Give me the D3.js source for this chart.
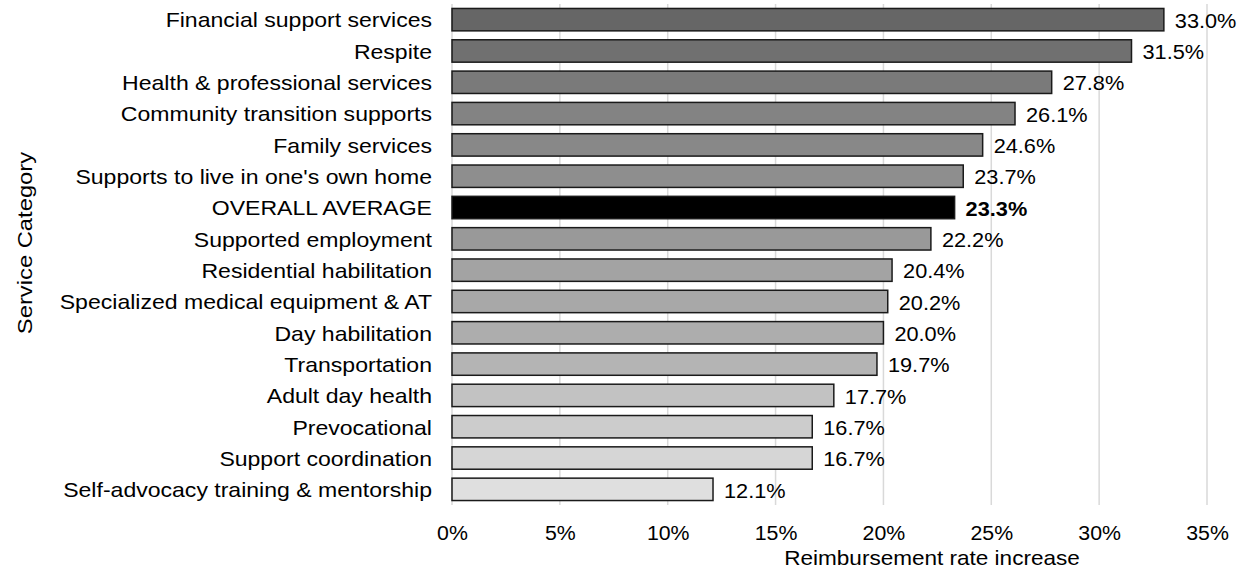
<!DOCTYPE html>
<html><head><meta charset="utf-8">
<script src="https://cdn.jsdelivr.net/npm/d3@7"></script>
<style>body{margin:0;background:#fff}svg{display:block;font-family:"Liberation Sans",Arial,sans-serif}</style>
</head><body>
<script>
const categories = ["Financial support services","Respite","Health & professional services","Community transition supports","Family services","Supports to live in one's own home","OVERALL AVERAGE","Supported employment","Residential habilitation","Specialized medical equipment & AT","Day habilitation","Transportation","Adult day health","Prevocational","Support coordination","Self-advocacy training & mentorship"];
const values = [33.0,31.5,27.8,26.1,24.6,23.7,23.3,22.2,20.4,20.2,20.0,19.7,17.7,16.7,16.7,12.1];
const fills = ["#666666","#707070","#7a7a7a","#838383","#888888","#8e8e8e","#000000","#999999","#a3a3a3","#a8a8a8","#adadad","#b4b4b4","#c2c2c2","#cccccc","#d6d6d6","#dfdfdf"];
const xTicks = [0,5,10,15,20,25,30,35];
const highlight = "OVERALL AVERAGE";

const W=1250,H=576,FS=20.5;
const svg=d3.select("body").append("svg").attr("width",W).attr("height",H);
const x=d3.scaleLinear().domain([0,35]).range([452,1207]);
const y=d3.scaleBand().domain(categories).range([4,505]).paddingInner(0.285).paddingOuter(0.1425);

// gridlines
svg.append("g").selectAll("line").data(xTicks).join("line")
  .attr("x1",d=>x(d)).attr("x2",d=>x(d)).attr("y1",4).attr("y2",505)
  .attr("stroke","#d9d9d9").attr("stroke-width",1.5);

// bars
svg.append("g").selectAll("rect").data(categories).join("rect")
  .attr("x",x(0)).attr("y",d=>y(d)).attr("width",(d,i)=>x(values[i])-x(0)).attr("height",y.bandwidth())
  .attr("fill",(d,i)=>fills[i]).attr("stroke","#1a1a1a").attr("stroke-width",1.5);

// value labels
svg.append("g").selectAll("text").data(categories).join("text")
  .attr("transform",(d,i)=>`translate(${x(values[i])+11},${y(d)+y.bandwidth()/2}) scale(1.06,1)`)
  .attr("dy","0.4em")
  .attr("font-size",FS).attr("fill","#000")
  .attr("font-weight",d=>d===highlight?"bold":"normal")
  .text((d,i)=>values[i].toFixed(1)+"%");

// category labels
const yAxis=d3.axisLeft(y).tickSize(0).tickPadding(0);
const ya=svg.append("g").attr("transform","translate(432,0)").call(yAxis);
ya.select(".domain").remove();
ya.selectAll("text").attr("font-size",FS).attr("fill","#000").attr("font-family","Liberation Sans, Arial, sans-serif")
  .attr("transform","scale(1.125,1)").attr("x",0).attr("dy","0.38em");

// x axis tick labels
const xAxis=d3.axisBottom(x).tickValues(xTicks).tickFormat(d=>d+"%").tickSize(0).tickPadding(0);
const xa=svg.append("g").attr("transform","translate(0,525)").call(xAxis);
xa.select(".domain").remove();
xa.selectAll("text").attr("font-size",FS).attr("fill","#000").attr("font-family","Liberation Sans, Arial, sans-serif")
  .attr("transform","scale(1.04,1)");

// axis titles
svg.append("text").attr("transform","translate(932,565) scale(1.1,1)").attr("text-anchor","middle").attr("font-size",FS).text("Reimbursement rate increase");
svg.append("text").attr("transform","translate(32,243) rotate(-90) scale(1.16,1)").attr("text-anchor","middle").attr("font-size",FS).text("Service Category");
</script>
</body></html>
